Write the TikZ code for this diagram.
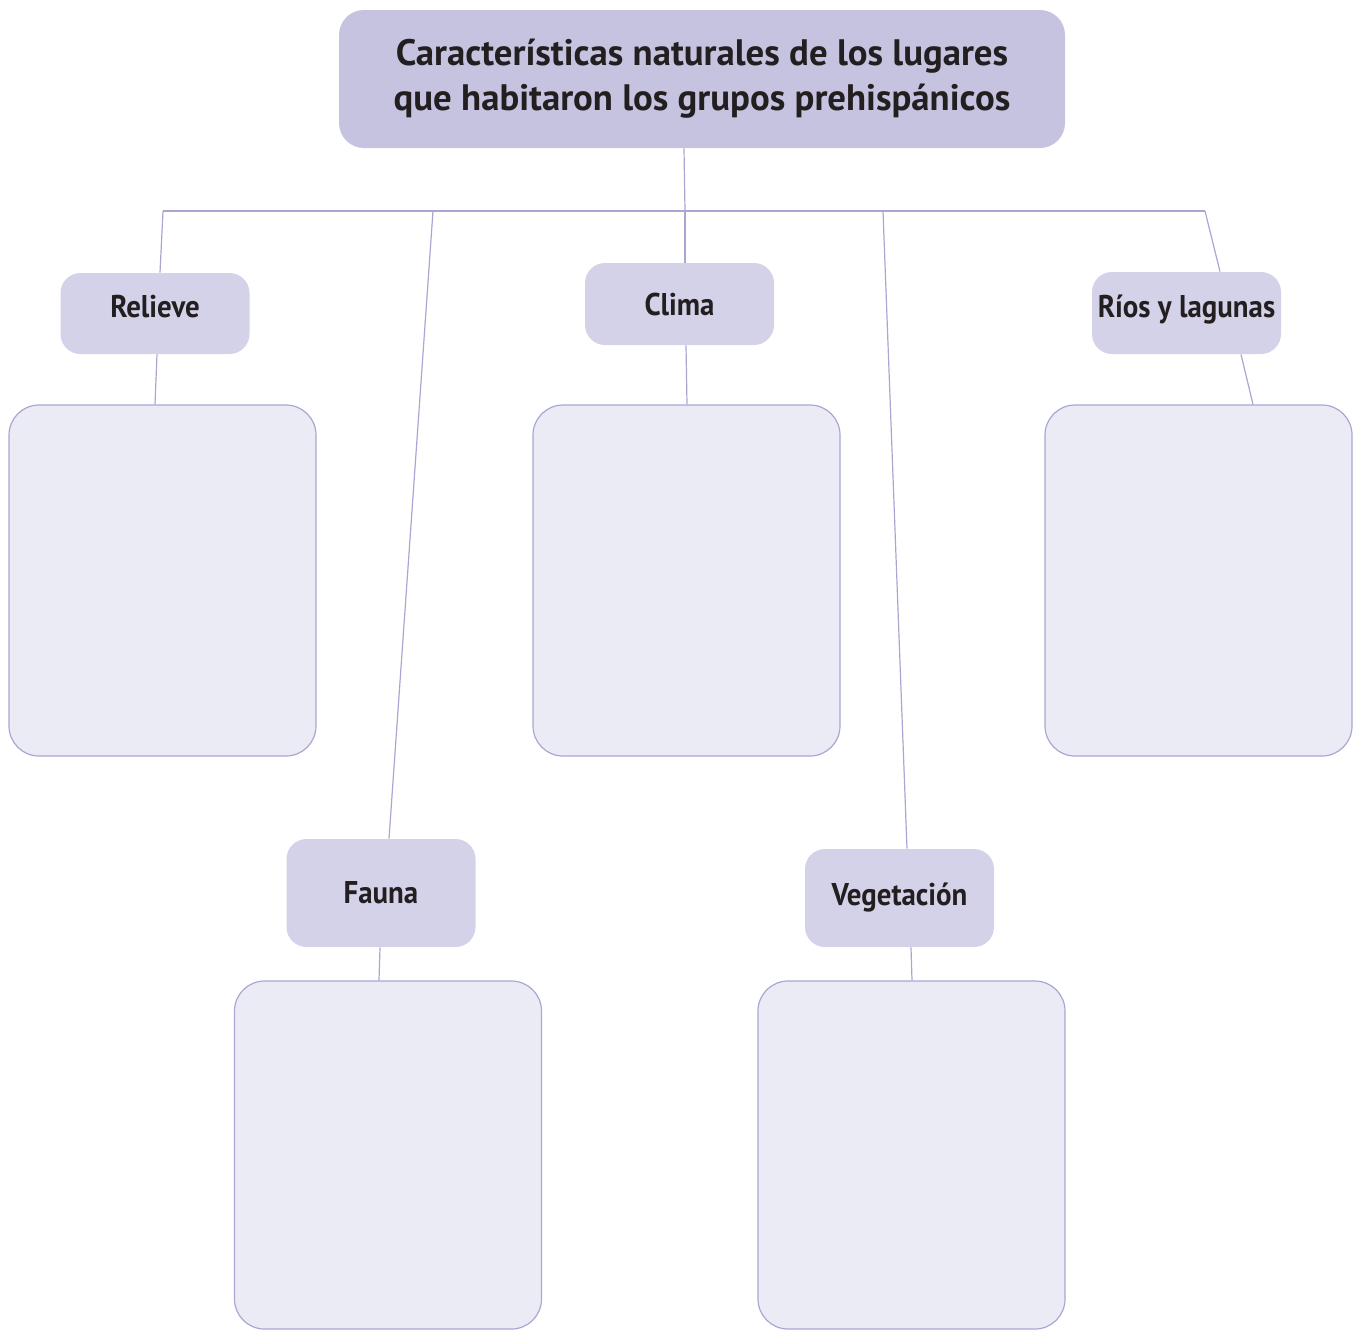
\documentclass[tikz,border=0pt]{standalone}
\usepackage{fontspec}
\setmainfont{PT Sans}
\newfontfamily\titlefont{PT Sans}
\newfontfamily\labfont[FakeStretch=0.92]{PT Sans}
\usetikzlibrary{calc}
\definecolor{titlefill}{HTML}{C5C3E0}
\definecolor{labfill}{HTML}{D4D2E9}
\definecolor{bigfill}{HTML}{EBEBF5}
\definecolor{linec}{HTML}{A9A6D3}
\definecolor{txt}{HTML}{231F20}
\tikzset{
  titlebox/.style={rectangle, fill=titlefill, rounded corners=12.5pt, minimum width=363pt, minimum height=69pt, inner sep=0pt, align=center, font=\titlefont\fontsize{18.4}{22.5}\selectfont\bfseries, text=txt},
  labbox/.style={rectangle, fill=labfill, rounded corners=10pt, minimum width=94.5pt, inner sep=0pt, font=\labfont\fontsize{15.7}{18}\selectfont\bfseries, text=txt},
  bigbox/.style={rectangle, fill=bigfill, draw=linec, line width=0.6pt, rounded corners=15pt, minimum width=153.5pt, inner sep=0pt},
  conn/.style={draw=linec, line width=0.6pt}
}
\begin{document}
\begin{tikzpicture}[x=0.5pt,y=-0.5pt]
\useasboundingbox (0,0) rectangle (1360,1329);
\node[titlebox] (title) at (702,79) {\raisebox{6pt}{\begin{tabular}{@{}c@{}}Características naturales de los lugares\\que habitaron los grupos prehispánicos\end{tabular}}};
\node[labbox, minimum height=40.5pt] (rel) at (155,313.5) {\raisebox{6.75pt}{Relieve}};
\node[labbox, minimum height=41pt] (clima) at (679.5,304) {Clima};
\node[labbox, minimum height=41pt] (rios) at (1186.5,313) {\raisebox{6.5pt}{Ríos y lagunas}};
\node[labbox, minimum height=54pt] (fauna) at (381,893) {\raisebox{-3.5pt}{Fauna}};
\node[labbox, minimum height=49pt] (veg) at (899.5,898) {\raisebox{0.5pt}{Vegetación}};
\node[bigbox, minimum height=175.5pt] (b1) at (162.5,580.5) {};
\node[bigbox, minimum height=175.5pt] (b2) at (686.5,580.5) {};
\node[bigbox, minimum height=175.5pt] (b3) at (1198.5,580.5) {};
\node[bigbox, minimum height=174pt] (b4) at (388,1155) {};
\node[bigbox, minimum height=174pt] (b5) at (911.5,1155) {};
\coordinate (j1) at (163,211);
\coordinate (j2) at (433,211);
\coordinate (j3) at (685,211);
\coordinate (j4) at (883,211);
\coordinate (j5) at (1205,211);
\draw[conn] ($(title.south)+(-18,0)$) -- (j3);
\draw[conn] (j1) -- (j5);
\draw[conn] (j1) -- ($(rel.north)+(5,0)$);
\draw[conn] ($(rel.south)+(2,0)$) -- ($(b1.north)+(-7.5,0)$);
\draw[conn] (j2) -- ($(fauna.north)+(8,0)$);
\draw[conn] ($(fauna.south)+(-1,0)$) -- ($(b4.north)+(-9,0)$);
\draw[conn] (j3) -- ($(clima.north)+(5.5,0)$);
\draw[conn] ($(clima.south)+(6.5,0)$) -- ($(b2.north)+(0.5,0)$);
\draw[conn] (j4) -- ($(veg.north)+(7.5,0)$);
\draw[conn] ($(veg.south)+(11.5,0)$) -- ($(b5.north)+(0.5,0)$);
\draw[conn] (j5) -- ($(rios.north)+(33.5,0)$);
\draw[conn] ($(rios.south)+(54.5,0)$) -- ($(b3.north)+(54.5,0)$);
\end{tikzpicture}
\end{document}
